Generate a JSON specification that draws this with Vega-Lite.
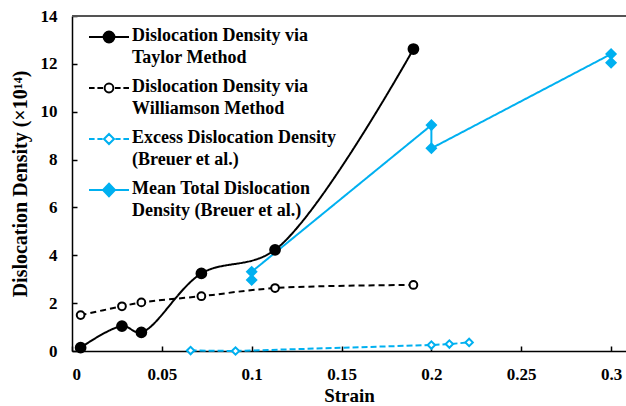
{
  "$schema": "https://vega.github.io/schema/vega-lite/v6.json",
  "width": 554,
  "height": 335,
  "autosize": "none",
  "padding": {"left": 72, "top": 16, "right": 0, "bottom": 55},
  "background": "white",
  "config": {
    "view": {"stroke": null},
    "axis": {
      "grid": false,
      "domainColor": "black",
      "domainWidth": 1.5,
      "tickColor": "black",
      "tickWidth": 1.5,
      "tickSize": -5,
      "labelFont": "Liberation Serif",
      "labelFontWeight": "bold",
      "labelFontSize": 17,
      "labelColor": "black",
      "titleFont": "Liberation Serif",
      "titleFontWeight": "bold",
      "titleFontSize": 19,
      "titleColor": "black"
    }
  },
  "data": {
    "values": [
      {"series": "Taylor", "name": "Dislocation Density via Taylor Method", "i": 0, "strain": 0.0048, "density": 0.14},
      {"series": "Taylor", "name": "Dislocation Density via Taylor Method", "i": 1, "strain": 0.0278, "density": 1.04},
      {"series": "Taylor", "name": "Dislocation Density via Taylor Method", "i": 2, "strain": 0.0386, "density": 0.78},
      {"series": "Taylor", "name": "Dislocation Density via Taylor Method", "i": 3, "strain": 0.072, "density": 3.24},
      {"series": "Taylor", "name": "Dislocation Density via Taylor Method", "i": 4, "strain": 0.113, "density": 4.23},
      {"series": "Taylor", "name": "Dislocation Density via Taylor Method", "i": 5, "strain": 0.19, "density": 12.62},
      {"series": "Williamson", "name": "Dislocation Density via Williamson Method", "i": 0, "strain": 0.0048, "density": 1.5},
      {"series": "Williamson", "name": "Dislocation Density via Williamson Method", "i": 1, "strain": 0.0278, "density": 1.87},
      {"series": "Williamson", "name": "Dislocation Density via Williamson Method", "i": 2, "strain": 0.0386, "density": 2.03},
      {"series": "Williamson", "name": "Dislocation Density via Williamson Method", "i": 3, "strain": 0.072, "density": 2.29},
      {"series": "Williamson", "name": "Dislocation Density via Williamson Method", "i": 4, "strain": 0.113, "density": 2.63},
      {"series": "Williamson", "name": "Dislocation Density via Williamson Method", "i": 5, "strain": 0.19, "density": 2.76},
      {"series": "Excess", "name": "Excess Dislocation Density (Breuer et al.)", "i": 0, "strain": 0.066, "density": 0.02},
      {"series": "Excess", "name": "Excess Dislocation Density (Breuer et al.)", "i": 1, "strain": 0.091, "density": 0.0},
      {"series": "Excess", "name": "Excess Dislocation Density (Breuer et al.)", "i": 2, "strain": 0.2, "density": 0.25},
      {"series": "Excess", "name": "Excess Dislocation Density (Breuer et al.)", "i": 3, "strain": 0.21, "density": 0.29},
      {"series": "Excess", "name": "Excess Dislocation Density (Breuer et al.)", "i": 4, "strain": 0.221, "density": 0.36},
      {"series": "Mean", "name": "Mean Total Dislocation Density (Breuer et al.)", "i": 0, "strain": 0.1, "density": 2.97},
      {"series": "Mean", "name": "Mean Total Dislocation Density (Breuer et al.)", "i": 1, "strain": 0.1, "density": 3.31},
      {"series": "Mean", "name": "Mean Total Dislocation Density (Breuer et al.)", "i": 2, "strain": 0.2, "density": 9.44},
      {"series": "Mean", "name": "Mean Total Dislocation Density (Breuer et al.)", "i": 3, "strain": 0.2, "density": 8.47},
      {"series": "Mean", "name": "Mean Total Dislocation Density (Breuer et al.)", "i": 4, "strain": 0.3, "density": 12.41},
      {"series": "Mean", "name": "Mean Total Dislocation Density (Breuer et al.)", "i": 5, "strain": 0.3, "density": 12.05}
    ]
  },
  "encoding": {
    "x": {
      "field": "strain", "type": "quantitative",
      "scale": {"domain": [0, 0.3083], "nice": false, "zero": false},
      "axis": {"values": [0, 0.05, 0.1, 0.15, 0.2, 0.25, 0.3], "format": "~g", "labelPadding": 20, "title": "Strain", "titlePadding": 4}
    },
    "y": {
      "field": "density", "type": "quantitative",
      "scale": {"domain": [0, 14], "nice": false},
      "axis": {"values": [0, 2, 4, 6, 8, 10, 12, 14], "labelPadding": 20, "title": "Dislocation Density (×10¹⁴)", "titlePadding": 10, "titleFontSize": 20}
    }
  },
  "layer": [
    {
      "mark": {"type": "rule", "color": "#555555", "strokeWidth": 1.5},
      "encoding": {"y": {"datum": 14}, "x": null}
    },
    {
      "transform": [{"filter": "datum.series == 'Taylor' || datum.series == 'Williamson'"}],
      "mark": {"type": "line", "interpolate": "catmull-rom", "strokeWidth": 2},
      "encoding": {
        "color": {"field": "series", "type": "nominal", "scale": {"domain": ["Taylor", "Williamson", "Excess", "Mean"], "range": ["black", "black", "#00B0F0", "#00B0F0"]}, "legend": null},
        "strokeDash": {"field": "series", "type": "nominal", "scale": {"domain": ["Taylor", "Williamson", "Excess", "Mean"], "range": [[1, 0], [6, 4], [6, 3], [1, 0]]}, "legend": null},
        "order": {"field": "i"}
      }
    },
    {
      "transform": [{"filter": "datum.series == 'Excess' || datum.series == 'Mean'"}],
      "mark": {"type": "line", "strokeWidth": 2},
      "encoding": {
        "color": {"field": "series", "type": "nominal", "scale": {"domain": ["Taylor", "Williamson", "Excess", "Mean"], "range": ["black", "black", "#00B0F0", "#00B0F0"]}, "legend": null},
        "strokeDash": {"field": "series", "type": "nominal", "scale": {"domain": ["Taylor", "Williamson", "Excess", "Mean"], "range": [[1, 0], [6, 4], [6, 3], [1, 0]]}, "legend": null},
        "order": {"field": "i"}
      }
    },
    {
      "transform": [{"filter": "datum.series == 'Taylor'"}],
      "mark": {"type": "point", "shape": "circle", "filled": true, "fill": "black", "stroke": "black", "strokeWidth": 2, "size": 95, "opacity": 1}
    },
    {
      "transform": [{"filter": "datum.series == 'Williamson'"}],
      "mark": {"type": "point", "shape": "circle", "filled": true, "fill": "white", "stroke": "black", "strokeWidth": 2, "size": 60, "opacity": 1}
    },
    {
      "transform": [{"filter": "datum.series == 'Excess'"}],
      "mark": {"type": "point", "shape": "diamond", "filled": true, "fill": "white", "stroke": "#00B0F0", "strokeWidth": 2, "size": 55, "opacity": 1}
    },
    {
      "transform": [{"filter": "datum.series == 'Mean'"}],
      "mark": {"type": "point", "shape": "diamond", "filled": true, "fill": "#00B0F0", "stroke": "#00B0F0", "strokeWidth": 2, "size": 85, "opacity": 1}
    },
    {
      "mark": {"type": "point", "opacity": 0, "strokeWidth": 2, "filled": true, "size": 1600},
      "encoding": {
        "shape": {
          "field": "name", "type": "nominal",
          "scale": {"domain": ["Dislocation Density via Taylor Method", "Dislocation Density via Williamson Method", "Excess Dislocation Density (Breuer et al.)", "Mean Total Dislocation Density (Breuer et al.)"], "range": [
            "M-1,0H-0.25M0.25,0H1M-0.27,0A0.27,0.27,0,1,1,0.27,0A0.27,0.27,0,1,1,-0.27,0Z",
            "M-1,0H-0.72M-0.58,0H-0.3M0.3,0H0.58M0.72,0H1M-0.22,0A0.22,0.22,0,1,1,0.22,0A0.22,0.22,0,1,1,-0.22,0Z",
            "M-1,0H-0.72M-0.58,0H-0.32M0.32,0H0.58M0.72,0H1M0,-0.25L0.25,0L0,0.25L-0.25,0Z",
            "M-1,0H-0.3M0.3,0H1M0,-0.32L0.3,0L0,0.32L-0.3,0Z"
          ]}
        },
        "stroke": {
          "field": "name", "type": "nominal",
          "scale": {"domain": ["Dislocation Density via Taylor Method", "Dislocation Density via Williamson Method", "Excess Dislocation Density (Breuer et al.)", "Mean Total Dislocation Density (Breuer et al.)"], "range": ["black", "black", "#00B0F0", "#00B0F0"]}
        },
        "fill": {
          "field": "name", "type": "nominal",
          "scale": {"domain": ["Dislocation Density via Taylor Method", "Dislocation Density via Williamson Method", "Excess Dislocation Density (Breuer et al.)", "Mean Total Dislocation Density (Breuer et al.)"], "range": ["black", "white", "white", "#00B0F0"]},
          "legend": {
            "title": null,
            "orient": "none",
            "legendX": 16,
            "legendY": 0,
            "padding": 0,
            "symbolSize": 1600,
            "symbolStrokeWidth": 2,
            "symbolOpacity": 1,
            "labelFont": "Liberation Serif",
            "labelFontWeight": "bold",
            "labelFontSize": 18,
            "labelColor": "black",
            "labelOffset": 2,
            "labelLimit": 400,
            "rowPadding": -6.5,
            "labelExpr": "indexof(datum.value, 'Taylor') >= 0 ? ['Dislocation Density via', 'Taylor Method'] : indexof(datum.value, 'Williamson') >= 0 ? ['Dislocation Density via', 'Williamson Method'] : indexof(datum.value, 'Excess') >= 0 ? ['Excess Dislocation Density', '(Breuer et al.)'] : ['Mean Total Dislocation', 'Density (Breuer et al.)']",
            "encode": {
              "labels": {"update": {"baseline": {"value": "top"}, "lineHeight": {"value": 21.5}, "dy": {"value": -10}}}
            }
          }
        }
      }
    }
  ]
}
